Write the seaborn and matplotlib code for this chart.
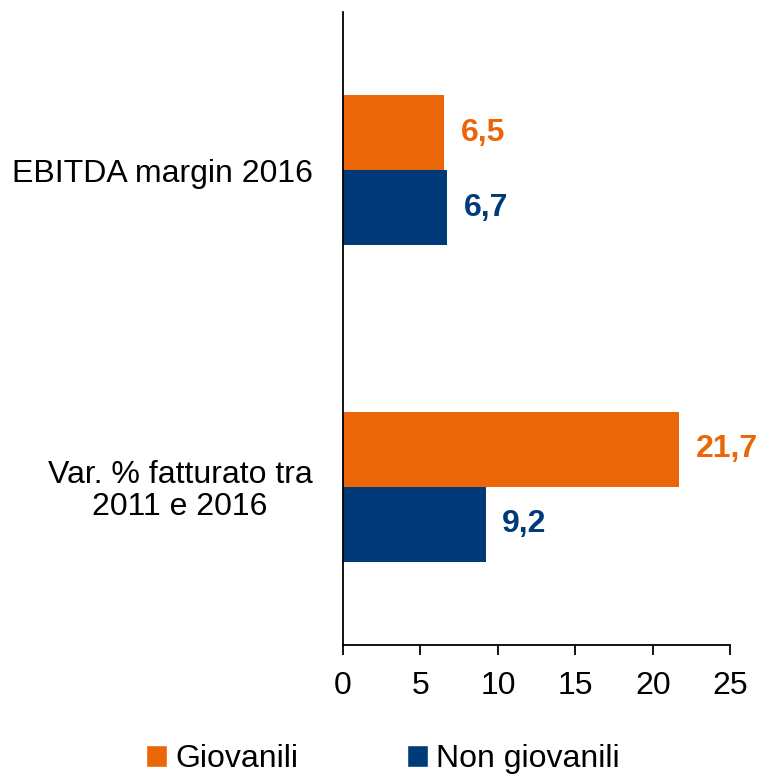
import numpy as np
import pandas as pd
import matplotlib
matplotlib.use("Agg")
import matplotlib.pyplot as plt
import seaborn as sns
from matplotlib.patches import Patch

categories = ["EBITDA margin 2016", "Var. % fatturato tra\n2011 e 2016"]
series = ["Giovanili", "Non giovanili"]
giovanili = [6.5, 21.7]
non_giovanili = [6.7, 9.2]
colors = ["#EB6608", "#003A78"]

df = pd.DataFrame({
    "cat": categories * 2,
    "serie": [series[0]] * 2 + [series[1]] * 2,
    "val": giovanili + non_giovanili,
})

sns.set_style("white")
plt.rcParams["font.family"] = ["Liberation Sans", "DejaVu Sans"]
plt.rcParams["text.color"] = "black"
plt.rcParams["xtick.color"] = "black"
plt.rcParams["ytick.color"] = "black"

FS = 23

fig = plt.figure(figsize=(7.59, 7.74), dpi=100)
ax = fig.add_axes([0.452, 0.1667, 0.510, 0.818])

sns.barplot(data=df, y="cat", x="val", hue="serie", orient="h",
            palette=colors, width=0.475, ax=ax, legend=False,
            saturation=1, linewidth=0)

# etichette valori
for cont, col in zip(ax.containers, colors):
    for bar in cont:
        w = bar.get_width()
        y = bar.get_y() + bar.get_height() / 2
        ax.annotate(f"{w:.1f}".replace(".", ","), (w, y), xytext=(12, 0),
                    textcoords="offset points", va="center", ha="left",
                    fontsize=FS, fontweight="bold", color=col)

ax.set_xlim(0, 25)
ax.set_ylim(1.5, -0.5)
ax.set_xticks(range(0, 26, 5))
ax.set_xlabel("")
ax.set_ylabel("")
for s in ["top", "right"]:
    ax.spines[s].set_visible(False)
for s in ["left", "bottom"]:
    ax.spines[s].set_color("black")
    ax.spines[s].set_linewidth(1.3)
ax.tick_params(axis="x", direction="out", length=7, width=1.3, labelsize=FS,
               pad=12, bottom=True)
ax.tick_params(axis="y", length=0, labelsize=FS, pad=22)
for lbl in ax.get_yticklabels():
    lbl.set_multialignment("center")
    lbl.set_linespacing(1.1)

handles = [Patch(facecolor=c, label=s) for c, s in zip(colors, series)]
fig.legend(handles=handles, loc="center left", bbox_to_anchor=(0.193, 0.019),
           ncol=2, frameon=False, fontsize=FS, handlelength=0.65,
           handleheight=0.65, handletextpad=0.25, columnspacing=3.4,
           borderpad=0, borderaxespad=0)

fig.savefig("out.png", dpi=100)
